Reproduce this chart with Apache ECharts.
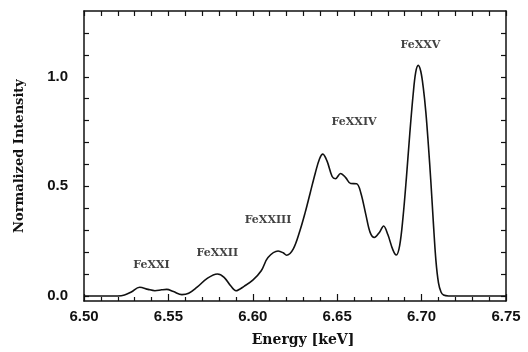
<!DOCTYPE html>
<html>
<head>
<meta charset="utf-8">
<script src="https://cdn.jsdelivr.net/npm/echarts@6/dist/echarts.min.js"></script>
<style>
  html, body { margin: 0; padding: 0; background: #fff; }
  #main { width: 528px; height: 352px; }
</style>
</head>
<body>
<div id="main"></div>
<script>
// spectrum: energy (keV) and normalized intensity
var energy = [
  6.500, 6.520, 6.524, 6.528, 6.533, 6.538, 6.542, 6.546, 6.549, 6.553,
  6.558, 6.562, 6.567, 6.573, 6.579, 6.583, 6.587, 6.590, 6.595, 6.600,
  6.605, 6.609, 6.615, 6.618, 6.620, 6.624, 6.628, 6.631, 6.634, 6.637,
  6.6395, 6.6415, 6.644, 6.647, 6.649, 6.652, 6.655, 6.658, 6.6615, 6.664,
  6.667, 6.6695, 6.672, 6.675, 6.6775, 6.680, 6.683, 6.685, 6.687, 6.689,
  6.691, 6.693, 6.695, 6.6965, 6.698, 6.6995, 6.701, 6.7025, 6.704, 6.7055,
  6.707, 6.7085, 6.710, 6.7115, 6.713, 6.716, 6.750
];
var intensity = [
  0.000, 0.000, 0.004, 0.018, 0.040, 0.030, 0.024, 0.028, 0.030, 0.020,
  0.006, 0.012, 0.040, 0.080, 0.100, 0.085, 0.045, 0.024, 0.045, 0.072,
  0.115, 0.175, 0.205, 0.197, 0.186, 0.215, 0.300, 0.380, 0.470, 0.560,
  0.625, 0.647, 0.615, 0.545, 0.535, 0.559, 0.540, 0.513, 0.512, 0.470,
  0.370, 0.290, 0.267, 0.290, 0.319, 0.280, 0.210, 0.187, 0.230, 0.360,
  0.540, 0.740, 0.920, 1.020, 1.052, 1.025, 0.950, 0.840, 0.690, 0.520,
  0.330, 0.160, 0.060, 0.018, 0.004, 0.000, 0.000
];

// ion labels and where they sit
var ionNames = ['FeXXI', 'FeXXII', 'FeXXIII', 'FeXXIV', 'FeXXV'];
var ionEnergy = [6.540, 6.579, 6.609, 6.660, 6.6993];
var ionLevel = [0.141, 0.196, 0.346, 0.794, 1.144];

var xLabels = [6.50, 6.55, 6.60, 6.65, 6.70, 6.75];
var yLabels = [0, 0.5, 1.0];
var yTicks = [0, 0.1, 0.2, 0.3, 0.4, 0.5, 0.6, 0.7, 0.8, 0.9, 1.0, 1.1, 1.2];

var myChart = echarts.init(document.getElementById('main'));

var lineData = energy.map(function (e, i) { return [e, intensity[i]]; });
var ionData = ionNames.map(function (n, i) {
  return { name: n, value: [ionEnergy[i], ionLevel[i]] };
});

var frameLine = { show: true, onZero: false, lineStyle: { color: '#111', width: 1.5 } };

var option = {
  animation: false,
  backgroundColor: '#fff',
  grid: { left: 84, right: 22, top: 11, bottom: 51 },
  xAxis: [
    {
      type: 'value',
      min: 6.5,
      max: 6.75,
      interval: 0.05,
      position: 'bottom',
      name: 'Energy [keV]',
      nameLocation: 'middle',
      nameGap: 32,
      nameTextStyle: { fontFamily: 'DejaVu Serif', fontWeight: 'bold', fontSize: 14, color: '#111', padding: [0, 0, 0, 16] },
      axisLine: frameLine,
      axisTick: { show: true, inside: true, length: 7, lineStyle: { color: '#111', width: 1.2 } },
      minorTick: { show: true, splitNumber: 5, length: 4, lineStyle: { color: '#111', width: 1.2 } },
      axisLabel: {
        margin: 8,
        fontFamily: 'Liberation Sans',
        fontWeight: 'bold',
        fontSize: 15,
        color: '#111',
        customValues: xLabels,
        formatter: function (v) { return v.toFixed(2); }
      },
      splitLine: { show: false }
    },
    {
      type: 'value',
      min: 6.5,
      max: 6.75,
      interval: 0.05,
      position: 'top',
      axisLine: frameLine,
      axisTick: { show: true, inside: true, length: 5, lineStyle: { color: '#111', width: 1.2 } },
      minorTick: { show: true, splitNumber: 5, length: 5, lineStyle: { color: '#111', width: 1.2 } },
      axisLabel: { show: false },
      splitLine: { show: false }
    }
  ],
  yAxis: [
    {
      type: 'value',
      min: -0.023,
      max: 1.3,
      position: 'left',
      name: 'Normalized Intensity',
      nameLocation: 'middle',
      nameGap: 58,
      nameTextStyle: { fontFamily: 'DejaVu Serif', fontWeight: 'bold', fontSize: 13, color: '#111' },
      axisLine: frameLine,
      axisTick: { show: true, inside: true, length: 5, customValues: yTicks, lineStyle: { color: '#111', width: 1.2 } },
      axisLabel: {
        margin: 16,
        fontFamily: 'Liberation Sans',
        fontWeight: 'bold',
        fontSize: 15,
        color: '#111',
        customValues: yLabels,
        formatter: function (v) { return v.toFixed(1); }
      },
      splitLine: { show: false }
    },
    {
      type: 'value',
      min: -0.023,
      max: 1.3,
      position: 'right',
      axisLine: frameLine,
      axisTick: { show: true, inside: true, length: 5, customValues: yTicks, lineStyle: { color: '#111', width: 1.2 } },
      axisLabel: { show: false },
      splitLine: { show: false }
    }
  ],
  series: [
    {
      type: 'line',
      data: lineData,
      smooth: 0.35,
      showSymbol: false,
      lineStyle: { color: '#111', width: 1.6 }
    },
    {
      type: 'scatter',
      data: ionData,
      symbolSize: 0,
      label: {
        show: true,
        position: 'inside',
        formatter: '{b}',
        fontFamily: 'DejaVu Serif',
        fontWeight: 'bold',
        fontSize: 11,
        color: '#111'
      }
    }
  ]
};

myChart.setOption(option);
</script>
</body>
</html>
